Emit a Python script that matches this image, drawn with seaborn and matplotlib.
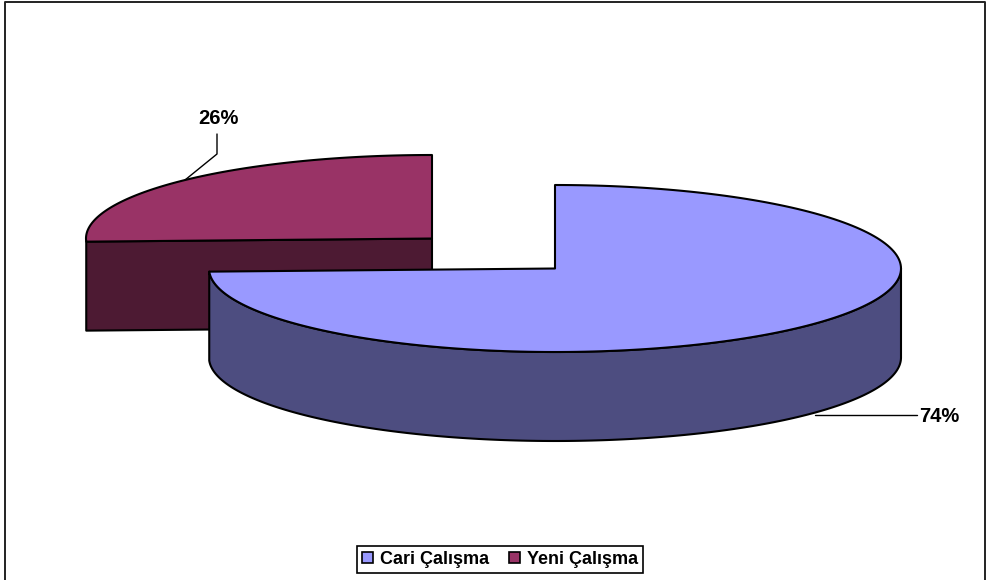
import numpy as np
import matplotlib
matplotlib.use("Agg")
import matplotlib.pyplot as plt
import seaborn as sns
from matplotlib.patches import Patch, Polygon

labels = ["Cari Çalışma", "Yeni Çalışma"]
shares = [74.4, 25.6]
top_colors = ["#9999FF", "#993366"]
side_colors = ["#4D4D80", "#4D1A33"]

sns.set_theme(style="white")
plt.rcParams["font.family"] = ["Liberation Sans", "DejaVu Sans"]

RX, RY, DEPTH = 346, 83.5, 89


def arc(cx, cy, start, stop, n=200):
    # angles in degrees, counter-clockwise as seen on screen
    t = np.radians(np.linspace(start, stop, n))
    return np.column_stack([cx + RX * np.cos(t), cy - RY * np.sin(t)])


def add_poly(ax, pts, color, z):
    ax.add_patch(Polygon(pts, closed=True, facecolor=color, edgecolor="black",
                         linewidth=1.5, joinstyle="round", zorder=z))


fig = plt.figure(figsize=(9.86, 5.8), dpi=100)
ax = fig.add_axes([0, 0, 1, 1])
ax.set_xlim(0, 986)
ax.set_ylim(580, 0)
ax.axis("off")

# outer frame, open at the bottom
ax.plot([4.5, 4.5, 984.5, 984.5], [580, 1.5, 1.5, 580], color="#222222", lw=1.4, zorder=1)

# exploded slice, behind
cx2, cy2 = 432, 238.5
sweep2 = shares[1] / sum(shares) * 360
rim2 = arc(cx2, cy2, 90, 90 + sweep2)
add_poly(ax, [(cx2, cy2), rim2[-1], rim2[-1] + (0, DEPTH), (cx2, cy2 + DEPTH)], side_colors[1], 2)
add_poly(ax, np.vstack([[(cx2, cy2)], rim2]), top_colors[1], 3)

# main slice
cx1, cy1 = 555, 268.5
sweep1 = shares[0] / sum(shares) * 360
rim1 = arc(cx1, cy1, 90, 90 - sweep1)
front = arc(cx1, cy1, 0, 90 - sweep1)
add_poly(ax, np.vstack([front, (front + (0, DEPTH))[::-1]]), side_colors[0], 4)
add_poly(ax, np.vstack([[(cx1, cy1)], rim1]), top_colors[0], 5)

# leader lines and labels
ax.plot([217, 217, 185], [134, 154, 180], color="black", lw=1, zorder=6)
ax.plot([815, 917], [414.5, 414.5], color="black", lw=1, zorder=6)
ax.text(218, 118, f"{shares[1]:.0f}%", ha="center", va="center", fontsize=14.5, fontweight="bold", color="black")
ax.text(939.5, 416, f"{shares[0]:.0f}%", ha="center", va="center", fontsize=14.5, fontweight="bold", color="black")

handles = [Patch(facecolor=c, edgecolor="black", linewidth=1.2) for c in top_colors]
leg = ax.legend(handles, labels, ncol=2, loc="center", bbox_to_anchor=(500 / 986, 1 - 559.5 / 580),
                frameon=True, fancybox=False, framealpha=1, edgecolor="black",
                prop={"size": 13, "weight": "bold"}, handlelength=0.62, handleheight=0.62,
                handletextpad=0.36, columnspacing=1.1, borderpad=0.3, borderaxespad=0)
leg.get_frame().set_linewidth(1.2)
for txt in leg.get_texts():
    txt.set_color("black")

fig.savefig("out.png", dpi=100)
